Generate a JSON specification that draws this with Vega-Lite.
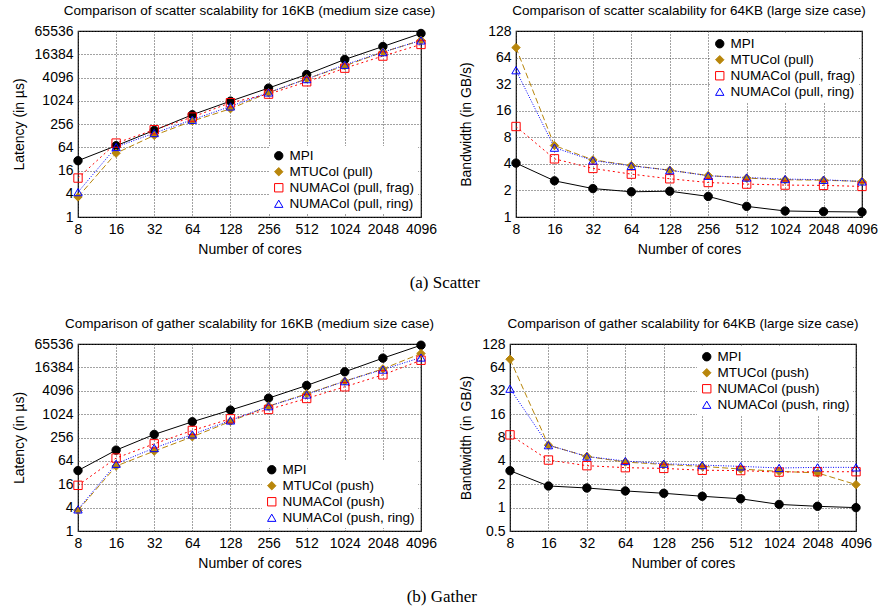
{
  "$schema": "https://vega.github.io/schema/vega-lite/v6.json",
  "background": "white",
  "padding": {"left": 11, "top": 2, "right": 0, "bottom": 2},
  "config": {
    "font": "Liberation Sans",
    "view": {"stroke": "black", "strokeWidth": 1.2},
    "axis": {
      "grid": true, "gridDash": [1, 2], "gridColor": "#444", "gridWidth": 1,
      "domain": false, "ticks": false, "labelPadding": 5,
      "labelFontSize": 14, "titleFontSize": 14, "labelColor": "black", "titleColor": "black",
      "titleFontWeight": "normal", "labelFlush": false, "labelOverlap": false
    },
    "line": {"strokeWidth": 1},
    "title": {"fontSize": 13.5, "fontWeight": "normal", "color": "black", "offset": 7, "anchor": "middle", "frame": "group"},
    "legend": {
      "fillColor": "white", "labelFontSize": 13.5, "labelColor": "black", "symbolSize": 70,
      "rowPadding": 1, "padding": 3, "offset": 3, "symbolStrokeWidth": 1, "labelLimit": 300,
      "title": null
    }
  },
  "resolve": {
    "scale": {"color": "independent", "fill": "independent", "shape": "independent"},
    "legend": {"color": "independent", "fill": "independent", "shape": "independent"}
  },
  "spacing": 24,
  "datasets": {
    "p1": [
      {"cores": 8, "s": "MPI", "v": 28.7}, {"cores": 16, "s": "MPI", "v": 70}, {"cores": 32, "s": "MPI", "v": 175}, {"cores": 64, "s": "MPI", "v": 445}, {"cores": 128, "s": "MPI", "v": 1000}, {"cores": 256, "s": "MPI", "v": 2180}, {"cores": 512, "s": "MPI", "v": 4900}, {"cores": 1024, "s": "MPI", "v": 12000}, {"cores": 2048, "s": "MPI", "v": 26000}, {"cores": 4096, "s": "MPI", "v": 56600},
      {"cores": 8, "s": "MTUCol (pull)", "v": 3.3}, {"cores": 16, "s": "MTUCol (pull)", "v": 45}, {"cores": 32, "s": "MTUCol (pull)", "v": 130}, {"cores": 64, "s": "MTUCol (pull)", "v": 305}, {"cores": 128, "s": "MTUCol (pull)", "v": 635}, {"cores": 256, "s": "MTUCol (pull)", "v": 1650}, {"cores": 512, "s": "MTUCol (pull)", "v": 3800}, {"cores": 1024, "s": "MTUCol (pull)", "v": 8200}, {"cores": 2048, "s": "MTUCol (pull)", "v": 18600}, {"cores": 4096, "s": "MTUCol (pull)", "v": 37400},
      {"cores": 8, "s": "NUMACol (pull, frag)", "v": 10.2}, {"cores": 16, "s": "NUMACol (pull, frag)", "v": 82}, {"cores": 32, "s": "NUMACol (pull, frag)", "v": 182}, {"cores": 64, "s": "NUMACol (pull, frag)", "v": 387}, {"cores": 128, "s": "NUMACol (pull, frag)", "v": 910}, {"cores": 256, "s": "NUMACol (pull, frag)", "v": 1520}, {"cores": 512, "s": "NUMACol (pull, frag)", "v": 3170}, {"cores": 1024, "s": "NUMACol (pull, frag)", "v": 7150}, {"cores": 2048, "s": "NUMACol (pull, frag)", "v": 14700}, {"cores": 4096, "s": "NUMACol (pull, frag)", "v": 29400},
      {"cores": 8, "s": "NUMACol (pull, ring)", "v": 4.4}, {"cores": 16, "s": "NUMACol (pull, ring)", "v": 65}, {"cores": 32, "s": "NUMACol (pull, ring)", "v": 149}, {"cores": 64, "s": "NUMACol (pull, ring)", "v": 330}, {"cores": 128, "s": "NUMACol (pull, ring)", "v": 730}, {"cores": 256, "s": "NUMACol (pull, ring)", "v": 1680}, {"cores": 512, "s": "NUMACol (pull, ring)", "v": 3720}, {"cores": 1024, "s": "NUMACol (pull, ring)", "v": 8750}, {"cores": 2048, "s": "NUMACol (pull, ring)", "v": 18600}, {"cores": 4096, "s": "NUMACol (pull, ring)", "v": 37400}
    ],
    "p2": [
      {"cores": 8, "s": "MPI", "v": 4.08}, {"cores": 16, "s": "MPI", "v": 2.57}, {"cores": 32, "s": "MPI", "v": 2.1}, {"cores": 64, "s": "MPI", "v": 1.93}, {"cores": 128, "s": "MPI", "v": 1.96}, {"cores": 256, "s": "MPI", "v": 1.71}, {"cores": 512, "s": "MPI", "v": 1.32}, {"cores": 1024, "s": "MPI", "v": 1.17}, {"cores": 2048, "s": "MPI", "v": 1.15}, {"cores": 4096, "s": "MPI", "v": 1.14},
      {"cores": 8, "s": "MTUCol (pull)", "v": 83}, {"cores": 16, "s": "MTUCol (pull)", "v": 6.45}, {"cores": 32, "s": "MTUCol (pull)", "v": 4.44}, {"cores": 64, "s": "MTUCol (pull)", "v": 3.83}, {"cores": 128, "s": "MTUCol (pull)", "v": 3.39}, {"cores": 256, "s": "MTUCol (pull)", "v": 2.95}, {"cores": 512, "s": "MTUCol (pull)", "v": 2.76}, {"cores": 1024, "s": "MTUCol (pull)", "v": 2.64}, {"cores": 2048, "s": "MTUCol (pull)", "v": 2.61}, {"cores": 4096, "s": "MTUCol (pull)", "v": 2.53},
      {"cores": 8, "s": "NUMACol (pull, frag)", "v": 10.6}, {"cores": 16, "s": "NUMACol (pull, frag)", "v": 4.56}, {"cores": 32, "s": "NUMACol (pull, frag)", "v": 3.55}, {"cores": 64, "s": "NUMACol (pull, frag)", "v": 3.06}, {"cores": 128, "s": "NUMACol (pull, frag)", "v": 2.71}, {"cores": 256, "s": "NUMACol (pull, frag)", "v": 2.46}, {"cores": 512, "s": "NUMACol (pull, frag)", "v": 2.36}, {"cores": 1024, "s": "NUMACol (pull, frag)", "v": 2.3}, {"cores": 2048, "s": "NUMACol (pull, frag)", "v": 2.28}, {"cores": 4096, "s": "NUMACol (pull, frag)", "v": 2.22},
      {"cores": 8, "s": "NUMACol (pull, ring)", "v": 46}, {"cores": 16, "s": "NUMACol (pull, ring)", "v": 6.1}, {"cores": 32, "s": "NUMACol (pull, ring)", "v": 4.37}, {"cores": 64, "s": "NUMACol (pull, ring)", "v": 3.8}, {"cores": 128, "s": "NUMACol (pull, ring)", "v": 3.39}, {"cores": 256, "s": "NUMACol (pull, ring)", "v": 2.93}, {"cores": 512, "s": "NUMACol (pull, ring)", "v": 2.8}, {"cores": 1024, "s": "NUMACol (pull, ring)", "v": 2.69}, {"cores": 2048, "s": "NUMACol (pull, ring)", "v": 2.64}, {"cores": 4096, "s": "NUMACol (pull, ring)", "v": 2.53}
    ],
    "p3": [
      {"cores": 8, "s": "MPI", "v": 36}, {"cores": 16, "s": "MPI", "v": 121}, {"cores": 32, "s": "MPI", "v": 307}, {"cores": 64, "s": "MPI", "v": 650}, {"cores": 128, "s": "MPI", "v": 1300}, {"cores": 256, "s": "MPI", "v": 2640}, {"cores": 512, "s": "MPI", "v": 5600}, {"cores": 1024, "s": "MPI", "v": 12600}, {"cores": 2048, "s": "MPI", "v": 28300}, {"cores": 4096, "s": "MPI", "v": 61000},
      {"cores": 8, "s": "MTUCol (push)", "v": 3.4}, {"cores": 16, "s": "MTUCol (push)", "v": 47}, {"cores": 32, "s": "MTUCol (push)", "v": 114}, {"cores": 64, "s": "MTUCol (push)", "v": 267}, {"cores": 128, "s": "MTUCol (push)", "v": 662}, {"cores": 256, "s": "MTUCol (push)", "v": 1640}, {"cores": 512, "s": "MTUCol (push)", "v": 3420}, {"cores": 1024, "s": "MTUCol (push)", "v": 7230}, {"cores": 2048, "s": "MTUCol (push)", "v": 15000}, {"cores": 4096, "s": "MTUCol (push)", "v": 37300},
      {"cores": 8, "s": "NUMACol (push)", "v": 15}, {"cores": 16, "s": "NUMACol (push)", "v": 75.6}, {"cores": 32, "s": "NUMACol (push)", "v": 176}, {"cores": 64, "s": "NUMACol (push)", "v": 389}, {"cores": 128, "s": "NUMACol (push)", "v": 776}, {"cores": 256, "s": "NUMACol (push)", "v": 1350}, {"cores": 512, "s": "NUMACol (push)", "v": 2590}, {"cores": 1024, "s": "NUMACol (push)", "v": 5180}, {"cores": 2048, "s": "NUMACol (push)", "v": 10500}, {"cores": 4096, "s": "NUMACol (push)", "v": 25000},
      {"cores": 8, "s": "NUMACol (push, ring)", "v": 3.6}, {"cores": 16, "s": "NUMACol (push, ring)", "v": 54}, {"cores": 32, "s": "NUMACol (push, ring)", "v": 137}, {"cores": 64, "s": "NUMACol (push, ring)", "v": 307}, {"cores": 128, "s": "NUMACol (push, ring)", "v": 704}, {"cores": 256, "s": "NUMACol (push, ring)", "v": 1640}, {"cores": 512, "s": "NUMACol (push, ring)", "v": 3280}, {"cores": 1024, "s": "NUMACol (push, ring)", "v": 7230}, {"cores": 2048, "s": "NUMACol (push, ring)", "v": 14400}, {"cores": 4096, "s": "NUMACol (push, ring)", "v": 29400}
    ],
    "p4": [
      {"cores": 8, "s": "MPI", "v": 2.99}, {"cores": 16, "s": "MPI", "v": 1.9}, {"cores": 32, "s": "MPI", "v": 1.79}, {"cores": 64, "s": "MPI", "v": 1.64}, {"cores": 128, "s": "MPI", "v": 1.53}, {"cores": 256, "s": "MPI", "v": 1.4}, {"cores": 512, "s": "MPI", "v": 1.3}, {"cores": 1024, "s": "MPI", "v": 1.1}, {"cores": 2048, "s": "MPI", "v": 1.04}, {"cores": 4096, "s": "MPI", "v": 1.0},
      {"cores": 8, "s": "MTUCol (push)", "v": 81.5}, {"cores": 16, "s": "MTUCol (push)", "v": 6.37}, {"cores": 32, "s": "MTUCol (push)", "v": 4.56}, {"cores": 64, "s": "MTUCol (push)", "v": 3.86}, {"cores": 128, "s": "MTUCol (push)", "v": 3.6}, {"cores": 256, "s": "MTUCol (push)", "v": 3.4}, {"cores": 512, "s": "MTUCol (push)", "v": 3.14}, {"cores": 1024, "s": "MTUCol (push)", "v": 2.93}, {"cores": 2048, "s": "MTUCol (push)", "v": 2.8}, {"cores": 4096, "s": "MTUCol (push)", "v": 1.98},
      {"cores": 8, "s": "NUMACol (push)", "v": 8.65}, {"cores": 16, "s": "NUMACol (push)", "v": 4.1}, {"cores": 32, "s": "NUMACol (push)", "v": 3.47}, {"cores": 64, "s": "NUMACol (push)", "v": 3.27}, {"cores": 128, "s": "NUMACol (push)", "v": 3.2}, {"cores": 256, "s": "NUMACol (push)", "v": 3.03}, {"cores": 512, "s": "NUMACol (push)", "v": 3.0}, {"cores": 1024, "s": "NUMACol (push)", "v": 2.87}, {"cores": 2048, "s": "NUMACol (push)", "v": 2.9}, {"cores": 4096, "s": "NUMACol (push)", "v": 2.9},
      {"cores": 8, "s": "NUMACol (push, ring)", "v": 34}, {"cores": 16, "s": "NUMACol (push, ring)", "v": 6.37}, {"cores": 32, "s": "NUMACol (push, ring)", "v": 4.56}, {"cores": 64, "s": "NUMACol (push, ring)", "v": 3.98}, {"cores": 128, "s": "NUMACol (push, ring)", "v": 3.68}, {"cores": 256, "s": "NUMACol (push, ring)", "v": 3.53}, {"cores": 512, "s": "NUMACol (push, ring)", "v": 3.4}, {"cores": 1024, "s": "NUMACol (push, ring)", "v": 3.24}, {"cores": 2048, "s": "NUMACol (push, ring)", "v": 3.3}, {"cores": 4096, "s": "NUMACol (push, ring)", "v": 3.3}
    ]
  },
  "vconcat": [
    {
      "title": {"text": "(a)  Scatter", "orient": "bottom", "anchor": "middle", "frame": "bounds", "font": "Liberation Serif", "fontSize": 17, "offset": 18},
      "spacing": 21,
      "resolve": {
        "scale": {"color": "independent", "fill": "independent", "shape": "independent"},
        "legend": {"color": "independent", "fill": "independent", "shape": "independent"}
      },
      "hconcat": [
        {
          "title": "Comparison of scatter scalability for 16KB (medium size case)",
          "width": 343, "height": 186,
          "data": {"name": "p1"},
          "encoding": {
            "x": {"field": "cores", "type": "quantitative", "title": "Number of cores", "scale": {"type": "log", "base": 2, "domain": [8, 4096], "nice": false}, "axis": {"values": [8, 16, 32, 64, 128, 256, 512, 1024, 2048, 4096], "format": "d", "titlePadding": 6}},
            "y": {"field": "v", "type": "quantitative", "title": "Latency (in µs)", "scale": {"type": "log", "base": 2, "domain": [1, 65536], "nice": false}, "axis": {"values": [1, 4, 16, 64, 256, 1024, 4096, 16384, 65536], "format": "d", "titlePadding": 8}},
            "color": {"field": "s", "type": "nominal", "scale": {"domain": ["MPI", "MTUCol (pull)", "NUMACol (pull, frag)", "NUMACol (pull, ring)"], "range": ["black", "#b8860b", "#ff0000", "#0000ff"]}, "legend": {"orient": "bottom-right"}}
          },
          "layer": [
            {"transform": [{"filter": {"field": "s", "equal": "MPI"}}], "mark": {"type": "line"}},
            {"transform": [{"filter": {"field": "s", "equal": "MTUCol (pull)"}}], "mark": {"type": "line", "strokeDash": [6, 3]}},
            {"transform": [{"filter": {"field": "s", "equal": "NUMACol (pull, frag)"}}], "mark": {"type": "line", "strokeDash": [2, 3]}},
            {"transform": [{"filter": {"field": "s", "equal": "NUMACol (pull, ring)"}}], "mark": {"type": "line", "strokeDash": [1, 1.5]}},
            {"mark": {"type": "point", "filled": false, "size": 70, "strokeWidth": 1, "opacity": 1}, "encoding": {
              "fill": {"field": "s", "type": "nominal", "scale": {"domain": ["MPI", "MTUCol (pull)", "NUMACol (pull, frag)", "NUMACol (pull, ring)"], "range": ["black", "#b8860b", "transparent", "transparent"]}, "legend": {"orient": "bottom-right"}},
              "shape": {"field": "s", "type": "nominal", "scale": {"domain": ["MPI", "MTUCol (pull)", "NUMACol (pull, frag)", "NUMACol (pull, ring)"], "range": ["circle", "diamond", "square", "triangle-up"]}, "legend": {"orient": "bottom-right"}}
            }}
          ]
        },
        {
          "title": "Comparison of scatter scalability for 64KB (large size case)",
          "width": 346, "height": 186,
          "data": {"name": "p2"},
          "encoding": {
            "x": {"field": "cores", "type": "quantitative", "title": "Number of cores", "scale": {"type": "log", "base": 2, "domain": [8, 4096], "nice": false}, "axis": {"values": [8, 16, 32, 64, 128, 256, 512, 1024, 2048, 4096], "format": "d", "titlePadding": 6}},
            "y": {"field": "v", "type": "quantitative", "title": "Bandwidth (in GB/s)", "scale": {"type": "log", "base": 2, "domain": [1, 128], "nice": false}, "axis": {"values": [1, 2, 4, 8, 16, 32, 64, 128], "format": "~g", "titlePadding": 14}},
            "color": {"field": "s", "type": "nominal", "scale": {"domain": ["MPI", "MTUCol (pull)", "NUMACol (pull, frag)", "NUMACol (pull, ring)"], "range": ["black", "#b8860b", "#ff0000", "#0000ff"]}, "legend": {"orient": "top-right"}}
          },
          "layer": [
            {"transform": [{"filter": {"field": "s", "equal": "MPI"}}], "mark": {"type": "line"}},
            {"transform": [{"filter": {"field": "s", "equal": "MTUCol (pull)"}}], "mark": {"type": "line", "strokeDash": [6, 3]}},
            {"transform": [{"filter": {"field": "s", "equal": "NUMACol (pull, frag)"}}], "mark": {"type": "line", "strokeDash": [2, 3]}},
            {"transform": [{"filter": {"field": "s", "equal": "NUMACol (pull, ring)"}}], "mark": {"type": "line", "strokeDash": [1, 1.5]}},
            {"mark": {"type": "point", "filled": false, "size": 70, "strokeWidth": 1, "opacity": 1}, "encoding": {
              "fill": {"field": "s", "type": "nominal", "scale": {"domain": ["MPI", "MTUCol (pull)", "NUMACol (pull, frag)", "NUMACol (pull, ring)"], "range": ["black", "#b8860b", "transparent", "transparent"]}, "legend": {"orient": "top-right"}},
              "shape": {"field": "s", "type": "nominal", "scale": {"domain": ["MPI", "MTUCol (pull)", "NUMACol (pull, frag)", "NUMACol (pull, ring)"], "range": ["circle", "diamond", "square", "triangle-up"]}, "legend": {"orient": "top-right"}}
            }}
          ]
        }
      ]
    },
    {
      "title": {"text": "(b)  Gather", "orient": "bottom", "anchor": "middle", "frame": "bounds", "font": "Liberation Serif", "fontSize": 17, "offset": 18},
      "spacing": 21,
      "resolve": {
        "scale": {"color": "independent", "fill": "independent", "shape": "independent"},
        "legend": {"color": "independent", "fill": "independent", "shape": "independent"}
      },
      "hconcat": [
        {
          "title": "Comparison of gather scalability for 16KB (medium size case)",
          "width": 343, "height": 187,
          "data": {"name": "p3"},
          "encoding": {
            "x": {"field": "cores", "type": "quantitative", "title": "Number of cores", "scale": {"type": "log", "base": 2, "domain": [8, 4096], "nice": false}, "axis": {"values": [8, 16, 32, 64, 128, 256, 512, 1024, 2048, 4096], "format": "d", "titlePadding": 6}},
            "y": {"field": "v", "type": "quantitative", "title": "Latency (in µs)", "scale": {"type": "log", "base": 2, "domain": [1, 65536], "nice": false}, "axis": {"values": [1, 4, 16, 64, 256, 1024, 4096, 16384, 65536], "format": "d", "titlePadding": 8}},
            "color": {"field": "s", "type": "nominal", "scale": {"domain": ["MPI", "MTUCol (push)", "NUMACol (push)", "NUMACol (push, ring)"], "range": ["black", "#b8860b", "#ff0000", "#0000ff"]}, "legend": {"orient": "bottom-right"}}
          },
          "layer": [
            {"transform": [{"filter": {"field": "s", "equal": "MPI"}}], "mark": {"type": "line"}},
            {"transform": [{"filter": {"field": "s", "equal": "MTUCol (push)"}}], "mark": {"type": "line", "strokeDash": [6, 3]}},
            {"transform": [{"filter": {"field": "s", "equal": "NUMACol (push)"}}], "mark": {"type": "line", "strokeDash": [2, 3]}},
            {"transform": [{"filter": {"field": "s", "equal": "NUMACol (push, ring)"}}], "mark": {"type": "line", "strokeDash": [1, 1.5]}},
            {"mark": {"type": "point", "filled": false, "size": 70, "strokeWidth": 1, "opacity": 1}, "encoding": {
              "fill": {"field": "s", "type": "nominal", "scale": {"domain": ["MPI", "MTUCol (push)", "NUMACol (push)", "NUMACol (push, ring)"], "range": ["black", "#b8860b", "transparent", "transparent"]}, "legend": {"orient": "bottom-right"}},
              "shape": {"field": "s", "type": "nominal", "scale": {"domain": ["MPI", "MTUCol (push)", "NUMACol (push)", "NUMACol (push, ring)"], "range": ["circle", "diamond", "square", "triangle-up"]}, "legend": {"orient": "bottom-right"}}
            }}
          ]
        },
        {
          "title": "Comparison of gather scalability for 64KB (large size case)",
          "width": 346, "height": 187,
          "data": {"name": "p4"},
          "encoding": {
            "x": {"field": "cores", "type": "quantitative", "title": "Number of cores", "scale": {"type": "log", "base": 2, "domain": [8, 4096], "nice": false}, "axis": {"values": [8, 16, 32, 64, 128, 256, 512, 1024, 2048, 4096], "format": "d", "titlePadding": 6}},
            "y": {"field": "v", "type": "quantitative", "title": "Bandwidth (in GB/s)", "scale": {"type": "log", "base": 2, "domain": [0.5, 128], "nice": false}, "axis": {"values": [0.5, 1, 2, 4, 8, 16, 32, 64, 128], "format": "~g", "titlePadding": 8}},
            "color": {"field": "s", "type": "nominal", "scale": {"domain": ["MPI", "MTUCol (push)", "NUMACol (push)", "NUMACol (push, ring)"], "range": ["black", "#b8860b", "#ff0000", "#0000ff"]}, "legend": {"orient": "top-right"}}
          },
          "layer": [
            {"transform": [{"filter": {"field": "s", "equal": "MPI"}}], "mark": {"type": "line"}},
            {"transform": [{"filter": {"field": "s", "equal": "MTUCol (push)"}}], "mark": {"type": "line", "strokeDash": [6, 3]}},
            {"transform": [{"filter": {"field": "s", "equal": "NUMACol (push)"}}], "mark": {"type": "line", "strokeDash": [2, 3]}},
            {"transform": [{"filter": {"field": "s", "equal": "NUMACol (push, ring)"}}], "mark": {"type": "line", "strokeDash": [1, 1.5]}},
            {"mark": {"type": "point", "filled": false, "size": 70, "strokeWidth": 1, "opacity": 1}, "encoding": {
              "fill": {"field": "s", "type": "nominal", "scale": {"domain": ["MPI", "MTUCol (push)", "NUMACol (push)", "NUMACol (push, ring)"], "range": ["black", "#b8860b", "transparent", "transparent"]}, "legend": {"orient": "top-right"}},
              "shape": {"field": "s", "type": "nominal", "scale": {"domain": ["MPI", "MTUCol (push)", "NUMACol (push)", "NUMACol (push, ring)"], "range": ["circle", "diamond", "square", "triangle-up"]}, "legend": {"orient": "top-right"}}
            }}
          ]
        }
      ]
    }
  ]
}
